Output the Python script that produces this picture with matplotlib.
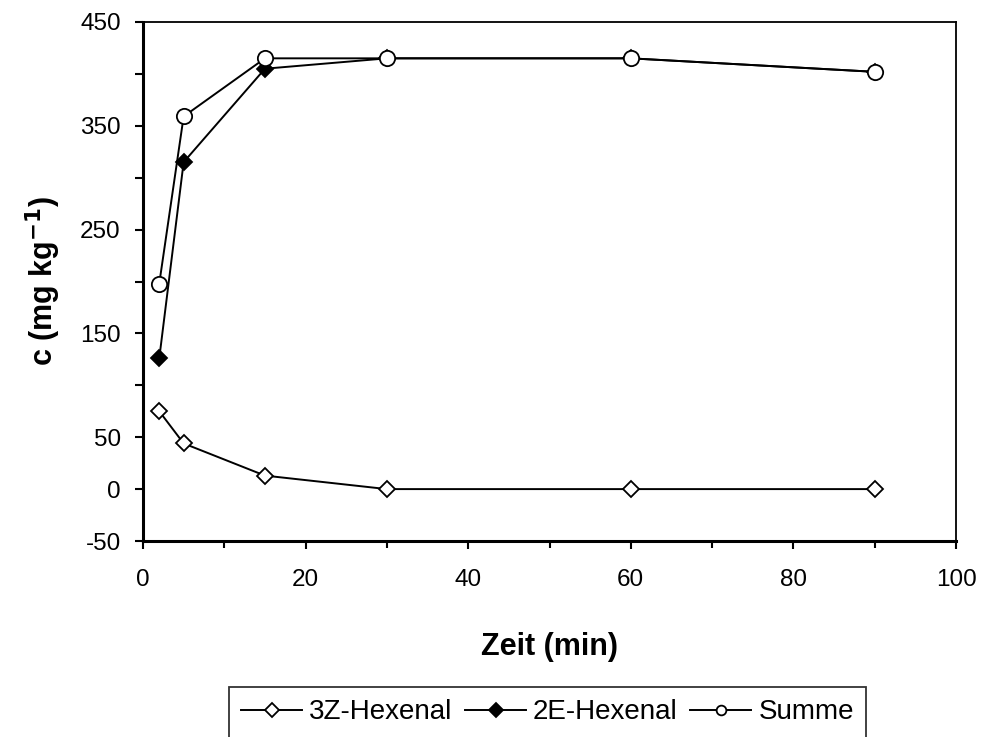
import numpy as np
import matplotlib.pyplot as plt

plt.rcParams['font.family'] = ['Liberation Sans', 'DejaVu Sans']

# Zeitpunkte (min)
zeit = [2, 5, 15, 30, 60, 90]

# Konzentrationen (mg/kg)
hex_3z = [75, 44, 13, 0, 0, 0]
hex_2e = [126, 315, 405, 415, 415, 402]
summe = [198, 359, 415, 415, 415, 402]

y_labels = {-50: '-50', 0: '0', 50: '50', 150: '150', 250: '250', 350: '350', 450: '450'}

fig = plt.figure(figsize=(9.83, 7.37), dpi=100)
ax = fig.add_axes([143/983, 1-541/737, (956-143)/983, (541-22)/737])

ax.plot(zeit, hex_3z, '-D', color='black', mfc='white', mec='black', ms=8, mew=1.3, lw=1.4, label='3Z-Hexenal')
ax.plot(zeit, hex_2e, '-D', color='black', mfc='black', mec='black', ms=8, mew=1.3, lw=1.4, label='2E-Hexenal')
ax.plot(zeit, summe, '-o', color='black', mfc='white', mec='black', ms=11, mew=1.3, lw=1.4, label='Summe')

ax.set_xlim(0, 100)
ax.set_ylim(-50, 450)
ax.set_xticks(np.arange(0, 101, 20))
ax.set_xticks(np.arange(0, 101, 10), minor=True)
yt = np.arange(-50, 451, 50)
ax.set_yticks(yt)
ax.set_yticklabels([y_labels.get(int(v), '') for v in yt])

ax.tick_params(axis='both', which='both', direction='out', length=6, width=1.5, labelsize=17.5)
ax.tick_params(axis='x', which='major', pad=14)
ax.tick_params(axis='y', which='major', pad=10)
ax.tick_params(axis='x', which='minor', length=5)

for s in ['left', 'bottom']:
    ax.spines[s].set_linewidth(2.2)
for s in ['top', 'right']:
    ax.spines[s].set_linewidth(1.3)

ax.set_xlabel('Zeit (min)', fontsize=22, fontweight='bold', labelpad=30)
ax.set_ylabel('c (mg kg$^{\\mathbf{-1}}$)', fontsize=22, fontweight='bold', labelpad=12)

leg = fig.legend(loc='upper center', bbox_to_anchor=(0.557, 1-673/737), ncol=3,
                 frameon=True, fancybox=False, fontsize=20, handlelength=2.2,
                 handletextpad=0.25, columnspacing=0.45, borderpad=0.45)
leg.get_frame().set_edgecolor('black')
leg.get_frame().set_linewidth(1.3)
for h in leg.legend_handles:
    h.set_markersize(7)

fig.savefig('out.png', dpi=100)
